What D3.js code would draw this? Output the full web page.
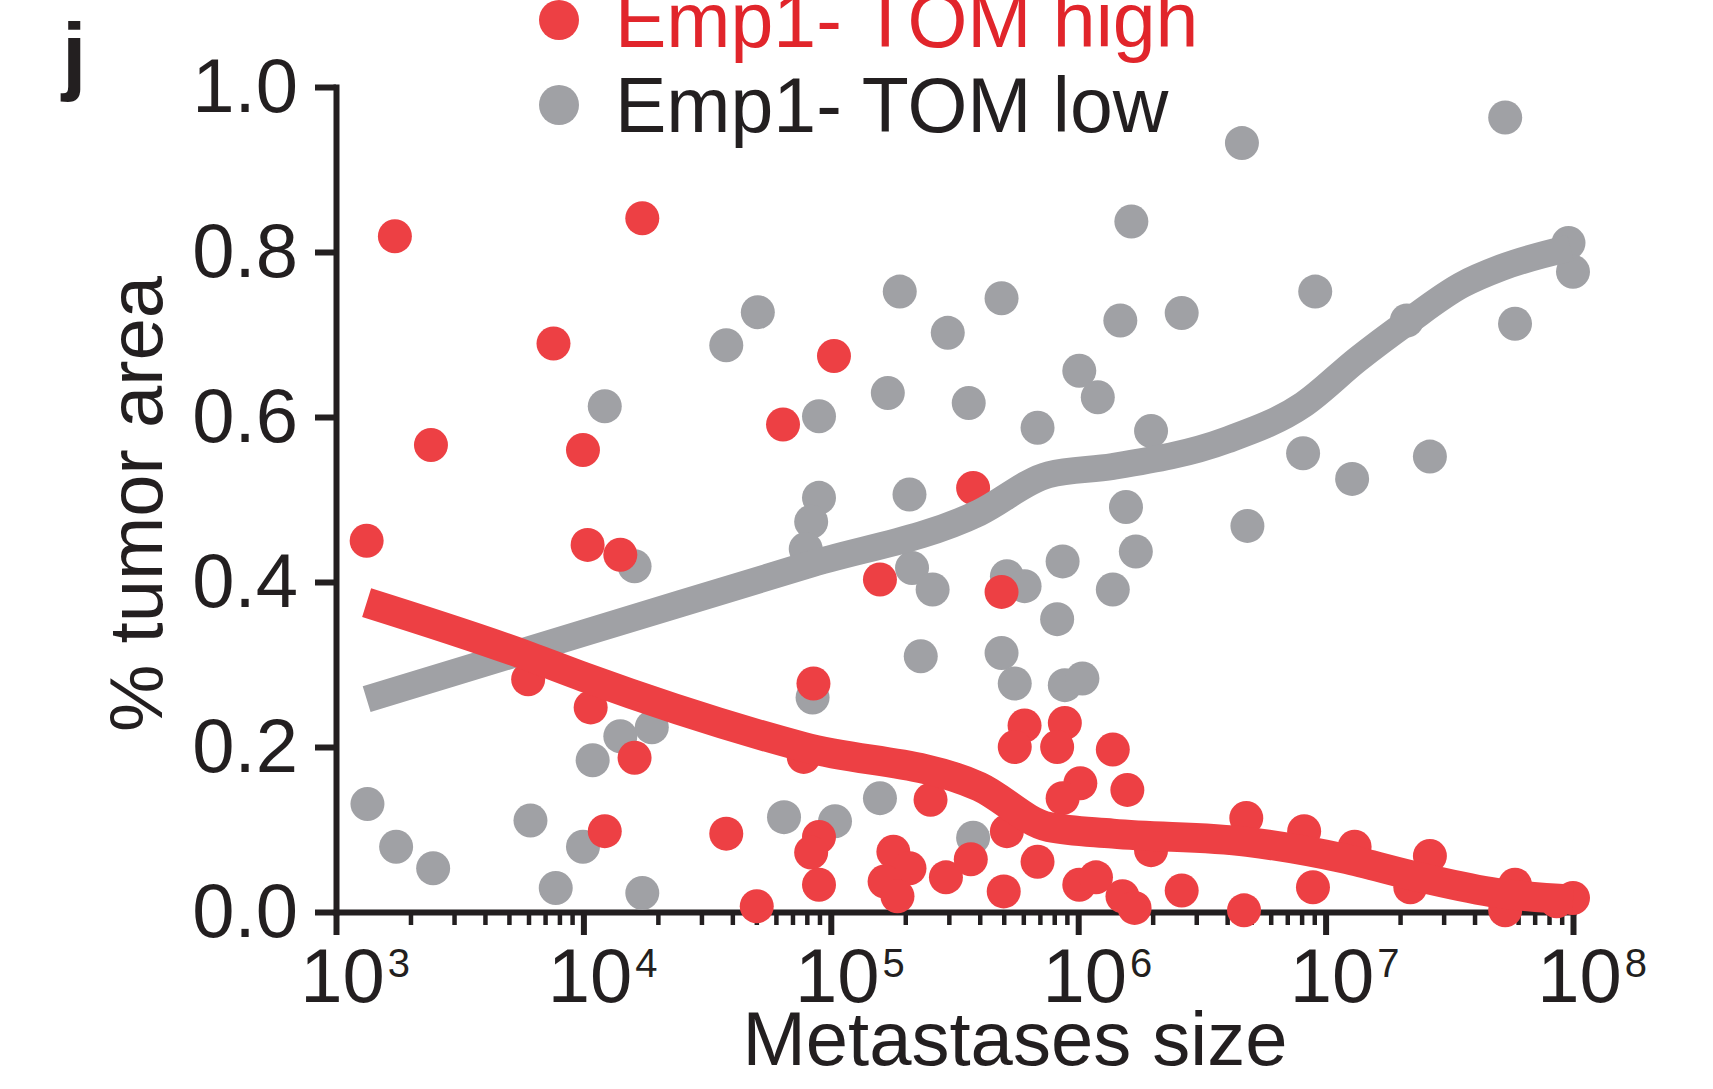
<!DOCTYPE html>
<html>
<head>
<meta charset="utf-8">
<script src="https://cdn.jsdelivr.net/npm/d3@7"></script>
<style>
  html, body { margin: 0; padding: 0; background: #ffffff; }
  svg { display: block; }
  text { font-family: "Liberation Sans", Arial, Helvetica, sans-serif; }
</style>
</head>
<body>
<svg id="chart" width="1713" height="1089"></svg>
<script>
// ---------------- data ----------------
const seriesNames = ["Emp1- TOM high", "Emp1- TOM low"];

// Emp1- TOM high (red) : [metastasis size, % tumor area]
const highSize = [1330, 1730, 2420, 7570, 9960, 10400, 14100, 17300, 5980, 10700,
  16100, 12200, 37800, 50200, 64100, 103000, 85100, 77700, 89600, 83300,
  89600, 158000, 376000, 490000, 253000, 179000, 208000, 165000, 186000, 292000,
  368000, 500000, 515000, 685000, 607000, 554000, 883000, 822000, 1380000, 1020000,
  865000, 1580000, 1010000, 1180000, 1510000, 1690000, 1970000, 2620000, 4680000, 4780000,
  8190000, 8890000, 13100000, 22000000, 26400000, 58300000, 53200000, 100000000, 85900000];
const highArea = [0.450, 0.819, 0.566, 0.689, 0.560, 0.445, 0.433, 0.841, 0.282, 0.248,
  0.187, 0.098, 0.095, 0.007, 0.591, 0.674, 0.277, 0.188, 0.091, 0.072,
  0.033, 0.403, 0.514, 0.388, 0.136, 0.073, 0.053, 0.037, 0.019, 0.042,
  0.064, 0.025, 0.098, 0.061, 0.226, 0.200, 0.229, 0.200, 0.197, 0.156,
  0.138, 0.148, 0.033, 0.042, 0.019, 0.005, 0.075, 0.026, 0.002, 0.114,
  0.098, 0.030, 0.079, 0.030, 0.068, 0.033, 0.002, 0.017, 0.013];

// Emp1- TOM low (grey)
const lowSize = [1340, 1750, 2470, 6110, 7730, 9960, 10900, 14100, 18900, 12200,
  16100, 17300, 37800, 50700, 64700, 104000, 89600, 89600, 83300, 79200,
  84400, 158000, 170000, 190000, 208000, 213000, 258000, 231000, 297000, 361000,
  376000, 490000, 490000, 554000, 515000, 607000, 685000, 822000, 865000, 883000,
  1040000, 1010000, 1200000, 1380000, 1560000, 1710000, 1480000, 1640000, 1970000, 2620000,
  4590000, 4830000, 8110000, 9080000, 12800000, 21300000, 26400000, 53200000, 58300000, 95900000,
  100000000];
const lowArea = [0.131, 0.079, 0.053, 0.111, 0.029, 0.079, 0.184, 0.213, 0.224, 0.613,
  0.419, 0.023, 0.687, 0.727, 0.115, 0.110, 0.601, 0.502, 0.473, 0.440,
  0.260, 0.138, 0.629, 0.752, 0.506, 0.417, 0.391, 0.310, 0.702, 0.617,
  0.090, 0.744, 0.314, 0.277, 0.407, 0.395, 0.587, 0.355, 0.425, 0.275,
  0.283, 0.656, 0.624, 0.391, 0.491, 0.437, 0.717, 0.837, 0.583, 0.726,
  0.932, 0.468, 0.556, 0.752, 0.525, 0.717, 0.552, 0.963, 0.713, 0.811,
  0.776];

// smoothed trend lines
const highTrendSize = [1330, 6000, 10000, 77600, 398000, 760000, 1380000, 4830000, 11800000, 24100000, 49500000, 100000000];
const highTrendArea = [0.375, 0.310, 0.285, 0.200, 0.152, 0.103, 0.095, 0.085, 0.065, 0.042, 0.023, 0.015];
const lowTrendSize = [1330, 10000, 79400, 398000, 759000, 1380000, 3980000, 8130000, 13500000, 21400000, 35500000, 51300000, 97700000];
const lowTrendArea = [0.258, 0.338, 0.420, 0.484, 0.530, 0.540, 0.572, 0.615, 0.670, 0.715, 0.760, 0.781, 0.805];

const xMajorTicks = [1e3, 1e4, 1e5, 1e6, 1e7, 1e8];
const xTickExponents = ["3", "4", "5", "6", "7", "8"];
const yTicks = [0, 0.2, 0.4, 0.6, 0.8, 1.0];
const xTitle = "Metastases size";
const yTitle = "% tumor area";
const panelLabel = "j";

// ---------------- style ----------------
const RED = "#ED4044", GREY = "#A0A1A5", INK = "#231F20", LEGEND_RED = "#E1252B";
const FS = 76;

const svg = d3.select("#chart");
const x = d3.scaleLog().domain([1e3, 1e8]).range([336, 1573]);
const y = d3.scaleLinear().domain([0, 1]).range([912, 87]);

// minor ticks
const xMinor = [];
for (let e = 3; e < 8; e++) for (let m = 2; m <= 9; m++) xMinor.push(m * Math.pow(10, e));

// ---------------- axes ----------------
const gMinor = svg.append("g").attr("transform", "translate(0,912)")
  .call(d3.axisBottom(x).tickValues(xMinor).tickFormat("").tickSize(13).tickSizeOuter(0));
gMinor.select(".domain").remove();
gMinor.selectAll(".tick text").remove();
gMinor.selectAll(".tick line").attr("stroke", INK).attr("stroke-width", 4.5);

const gx = svg.append("g").attr("transform", "translate(0,912)")
  .call(d3.axisBottom(x).tickValues(xMajorTicks).tickFormat(() => "10").tickSize(23).tickSizeOuter(0).tickPadding(13));
gx.select(".domain").attr("stroke", INK).attr("stroke-width", 6).attr("stroke-linecap", "square");
gx.selectAll(".tick line").attr("stroke", INK).attr("stroke-width", 6);
gx.selectAll(".tick text").each(function (d, i) {
  const t = d3.select(this);
  t.text(null).attr("text-anchor", "start").attr("font-size", FS).attr("fill", INK)
   .attr("font-family", "'Liberation Sans', Arial, sans-serif");
  const base = t.append("tspan").text("10");
  const w = base.node().getComputedTextLength();
  t.attr("x", -w / 2 + 6);
  t.append("tspan").attr("dx", 3).attr("dy", -25).attr("font-size", 40).text(xTickExponents[i]);
});

const gy = svg.append("g").attr("transform", "translate(336,0)")
  .call(d3.axisLeft(y).tickValues(yTicks).tickFormat(d3.format(".1f")).tickSize(21).tickSizeOuter(0).tickPadding(17));
gy.select(".domain").attr("stroke", INK).attr("stroke-width", 6).attr("stroke-linecap", "square");
gy.selectAll(".tick line").attr("stroke", INK).attr("stroke-width", 6);
gy.selectAll(".tick text").attr("font-size", FS).attr("fill", INK)
  .attr("font-family", "'Liberation Sans', Arial, sans-serif");

// ---------------- points ----------------
const lowPts = lowSize.map((s, i) => [s, lowArea[i]]);
const highPts = highSize.map((s, i) => [s, highArea[i]]);
const R = 17;

svg.append("g").selectAll("circle").data(lowPts).join("circle")
  .attr("cx", d => x(d[0])).attr("cy", d => y(d[1])).attr("r", R).attr("fill", GREY);
svg.append("g").selectAll("circle").data(highPts).join("circle")
  .attr("cx", d => x(d[0])).attr("cy", d => y(d[1])).attr("r", R).attr("fill", RED);

// ---------------- trend lines ----------------
const line = d3.line().x(d => x(d[0])).y(d => y(d[1])).curve(d3.curveMonotoneX);
svg.append("path").datum(lowTrendSize.map((s, i) => [s, lowTrendArea[i]]))
  .attr("d", line).attr("fill", "none").attr("stroke", GREY).attr("stroke-width", 27)
  .attr("stroke-linejoin", "round");
svg.append("path").datum(highTrendSize.map((s, i) => [s, highTrendArea[i]]))
  .attr("d", line).attr("fill", "none").attr("stroke", RED).attr("stroke-width", 30)
  .attr("stroke-linejoin", "round");

// ---------------- titles ----------------
svg.append("text").attr("x", 1015).attr("y", 1065).attr("text-anchor", "middle")
  .attr("font-size", FS).attr("fill", INK).text(xTitle);
svg.append("text").attr("transform", "translate(162,504) rotate(-90)").attr("text-anchor", "middle")
  .attr("font-size", FS).attr("fill", INK).text(yTitle);
svg.append("text").attr("x", 62).attr("y", 84).attr("font-size", 88).attr("font-weight", "bold")
  .attr("fill", INK).text(panelLabel);

// ---------------- legend ----------------
const legendColors = [RED, GREY];
const legendText = [LEGEND_RED, INK];
const lg = svg.append("g");
seriesNames.forEach((name, i) => {
  const cy = 20 + i * 85;
  lg.append("circle").attr("cx", 559).attr("cy", cy).attr("r", 20).attr("fill", legendColors[i]);
  lg.append("text").attr("x", 615).attr("y", cy + 27).attr("font-size", 77)
    .attr("fill", legendText[i]).text(name);
});
</script>
</body>
</html>
